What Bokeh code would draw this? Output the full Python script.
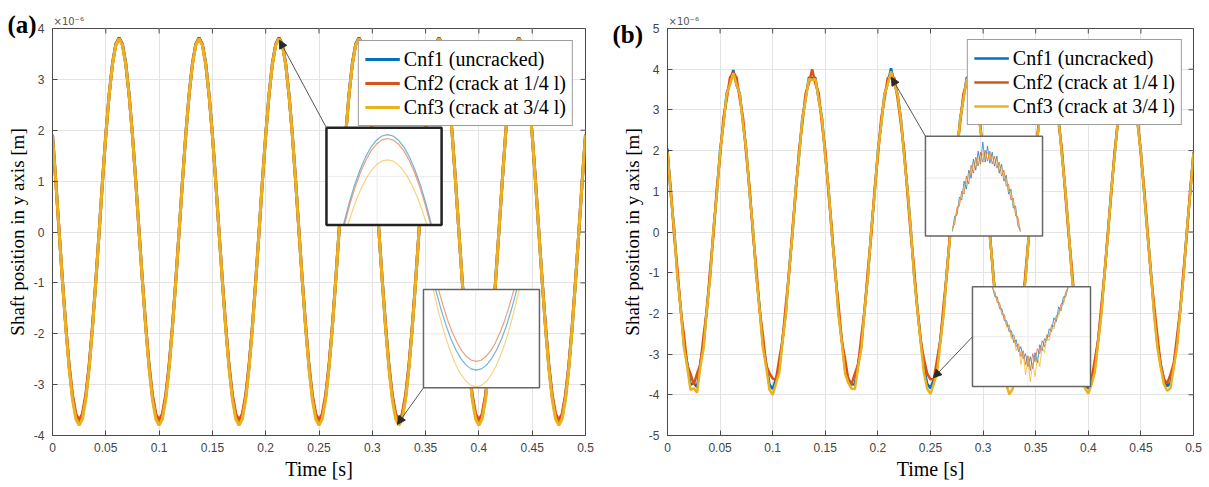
import numpy as np
from bokeh.plotting import figure
from bokeh.layouts import row
from bokeh.models import Range1d, FixedTicker, Arrow, NormalHead, Title
from bokeh.embed import file_html
from bokeh.resources import INLINE

# ---------------- data ----------------
time_s = np.linspace(0.0, 0.5, 161)

x_ticks = [0, 0.05, 0.1, 0.15, 0.2, 0.25, 0.3, 0.35, 0.4, 0.45, 0.5]
x_tick_labels = ["0", "0.05", "0.1", "0.15", "0.2", "0.25", "0.3", "0.35", "0.4", "0.45", "0.5"]
ya_ticks = [-4, -3, -2, -1, 0, 1, 2, 3, 4]
ya_tick_labels = ["-4", "-3", "-2", "-1", "0", "1", "2", "3", "4"]
yb_ticks = [-5, -4, -3, -2, -1, 0, 1, 2, 3, 4, 5]
yb_tick_labels = ["-5", "-4", "-3", "-2", "-1", "0", "1", "2", "3", "4", "5"]

series_names = ["Cnf1 (uncracked)", "Cnf2 (crack at 1/4 l)", "Cnf3 (crack at 3/4 l)"]

# panel (a): shaft position, x1e-6 m
cnf1_a = [
    1.91, 0.99, 0.00, -0.97, -1.87, -2.64, -3.24, -3.61,
    -3.74, -3.61, -3.24, -2.64, -1.87, -0.97, 0.00, 0.99, 1.91, 2.70, 3.31, 3.69, 3.82, 3.69, 3.31, 2.70, 1.91, 0.99, 0.00, -0.97, -1.87, -2.64, -3.24, -3.61,
    -3.74, -3.61, -3.24, -2.64, -1.87, -0.97, 0.00, 0.99, 1.91, 2.70, 3.31, 3.69, 3.82, 3.69, 3.31, 2.70, 1.91, 0.99, 0.00, -0.97, -1.87, -2.64, -3.24, -3.61,
    -3.74, -3.61, -3.24, -2.64, -1.87, -0.97, 0.00, 0.99, 1.91, 2.70, 3.31, 3.69, 3.82, 3.69, 3.31, 2.70, 1.91, 0.99, 0.00, -0.97, -1.87, -2.64, -3.24, -3.61,
    -3.74, -3.61, -3.24, -2.64, -1.87, -0.97, 0.00, 0.99, 1.91, 2.70, 3.31, 3.69, 3.82, 3.69, 3.31, 2.70, 1.91, 0.99, 0.00, -0.97, -1.87, -2.64, -3.24, -3.61,
    -3.74, -3.61, -3.24, -2.64, -1.87, -0.97, 0.00, 0.99, 1.91, 2.70, 3.31, 3.69, 3.82, 3.69, 3.31, 2.70, 1.91, 0.99, 0.00, -0.97, -1.87, -2.64, -3.24, -3.61,
    -3.74, -3.61, -3.24, -2.64, -1.87, -0.97, 0.00, 0.99, 1.91, 2.70, 3.31, 3.69, 3.82, 3.69, 3.31, 2.70, 1.91, 0.99, 0.00, -0.97, -1.87, -2.64, -3.24, -3.61,
    -3.74, -3.61, -3.24, -2.64, -1.87, -0.97, 0.00, 0.99, 1.91,
]
cnf2_a = [
    1.91, 0.99, 0.00, -0.96, -1.85, -2.62, -3.20, -3.57,
    -3.70, -3.57, -3.20, -2.62, -1.85, -0.96, 0.00, 0.99, 1.91, 2.69, 3.30, 3.68, 3.81, 3.68, 3.30, 2.69, 1.91, 0.99, 0.00, -0.96, -1.85, -2.62, -3.20, -3.57,
    -3.70, -3.57, -3.20, -2.62, -1.85, -0.96, 0.00, 0.99, 1.91, 2.69, 3.30, 3.68, 3.81, 3.68, 3.30, 2.69, 1.91, 0.99, 0.00, -0.96, -1.85, -2.62, -3.20, -3.57,
    -3.70, -3.57, -3.20, -2.62, -1.85, -0.96, 0.00, 0.99, 1.91, 2.69, 3.30, 3.68, 3.81, 3.68, 3.30, 2.69, 1.91, 0.99, 0.00, -0.96, -1.85, -2.62, -3.20, -3.57,
    -3.70, -3.57, -3.20, -2.62, -1.85, -0.96, 0.00, 0.99, 1.91, 2.69, 3.30, 3.68, 3.81, 3.68, 3.30, 2.69, 1.91, 0.99, 0.00, -0.96, -1.85, -2.62, -3.20, -3.57,
    -3.70, -3.57, -3.20, -2.62, -1.85, -0.96, 0.00, 0.99, 1.91, 2.69, 3.30, 3.68, 3.81, 3.68, 3.30, 2.69, 1.91, 0.99, 0.00, -0.96, -1.85, -2.62, -3.20, -3.57,
    -3.70, -3.57, -3.20, -2.62, -1.85, -0.96, 0.00, 0.99, 1.91, 2.69, 3.30, 3.68, 3.81, 3.68, 3.30, 2.69, 1.91, 0.99, 0.00, -0.96, -1.85, -2.62, -3.20, -3.57,
    -3.70, -3.57, -3.20, -2.62, -1.85, -0.96, 0.00, 0.99, 1.91,
]
cnf3_a = [
    1.90, 0.98, 0.00, -0.98, -1.90, -2.69, -3.29, -3.67,
    -3.80, -3.67, -3.29, -2.69, -1.90, -0.98, 0.00, 0.98, 1.90, 2.69, 3.29, 3.67, 3.80, 3.67, 3.29, 2.69, 1.90, 0.98, 0.00, -0.98, -1.90, -2.69, -3.29, -3.67,
    -3.80, -3.67, -3.29, -2.69, -1.90, -0.98, 0.00, 0.98, 1.90, 2.69, 3.29, 3.67, 3.80, 3.67, 3.29, 2.69, 1.90, 0.98, 0.00, -0.98, -1.90, -2.69, -3.29, -3.67,
    -3.80, -3.67, -3.29, -2.69, -1.90, -0.98, 0.00, 0.98, 1.90, 2.69, 3.29, 3.67, 3.80, 3.67, 3.29, 2.69, 1.90, 0.98, 0.00, -0.98, -1.90, -2.69, -3.29, -3.67,
    -3.80, -3.67, -3.29, -2.69, -1.90, -0.98, 0.00, 0.98, 1.90, 2.69, 3.29, 3.67, 3.80, 3.67, 3.29, 2.69, 1.90, 0.98, 0.00, -0.98, -1.90, -2.69, -3.29, -3.67,
    -3.80, -3.67, -3.29, -2.69, -1.90, -0.98, 0.00, 0.98, 1.90, 2.69, 3.29, 3.67, 3.80, 3.67, 3.29, 2.69, 1.90, 0.98, 0.00, -0.98, -1.90, -2.69, -3.29, -3.67,
    -3.80, -3.67, -3.29, -2.69, -1.90, -0.98, 0.00, 0.98, 1.90, 2.69, 3.29, 3.67, 3.80, 3.67, 3.29, 2.69, 1.90, 0.98, 0.00, -0.98, -1.90, -2.69, -3.29, -3.67,
    -3.80, -3.67, -3.29, -2.69, -1.90, -0.98, 0.00, 0.98, 1.90,
]

# panel (b): noisy measurement
cnf1_b = [
    2.05, 0.92, 0.10, -1.05, -1.84, -2.78, -3.22, -3.75,
    -3.72, -3.81, -3.20, -2.75, -1.82, -1.06, 0.08, 0.94, 2.01, 2.65, 3.41, 3.64, 3.98, 3.61, 3.40, 2.66, 1.99, 0.93, 0.06, -1.05, -1.83, -2.76, -3.22, -3.74,
    -3.86, -3.60, -3.35, -2.62, -1.97, -0.91, -0.07, 1.08, 1.86, 2.79, 3.26, 3.80, 3.78, 3.79, 3.25, 2.80, 1.87, 1.06, -0.06, -0.90, -1.97, -2.63, -3.36, -3.60,
    -3.75, -3.74, -3.23, -2.77, -1.84, -1.04, 0.06, 0.95, 1.99, 2.66, 3.39, 3.66, 4.02, 3.65, 3.38, 2.78, 1.88, 1.05, 0.07, -1.04, -1.85, -2.62, -3.34, -3.73,
    -3.84, -3.62, -3.33, -2.64, -1.95, -0.93, -0.05, 1.06, 1.88, 2.77, 3.27, 3.79, 3.80, 3.78, 3.28, 2.67, 1.98, 0.95, -0.05, -0.92, -1.96, -2.75, -3.23, -3.61,
    -3.78, -3.72, -3.25, -2.74, -1.86, -1.03, 0.05, 0.96, 1.97, 2.68, 3.37, 3.67, 3.95, 3.66, 3.36, 2.77, 1.90, 1.04, 0.04, -1.03, -1.86, -2.64, -3.33, -3.72,
    -3.85, -3.63, -3.32, -2.65, -1.94, -0.94, -0.04, 1.05, 1.89, 2.76, 3.28, 3.78, 3.82, 3.77, 3.29, 2.68, 1.97, 0.96, -0.04, -0.93, -1.95, -2.74, -3.24, -3.62,
    -3.79, -3.71, -3.26, -2.73, -1.87, -1.02, 0.04, 0.97, 1.96,
]
cnf2_b = [
    1.85, 1.07, -0.08, -0.88, -1.92, -2.52, -3.27, -3.48,
    -3.75, -3.47, -3.26, -2.53, -1.91, -0.88, -0.07, 1.07, 1.85, 2.80, 3.25, 3.80, 3.92, 3.80, 3.26, 2.79, 1.86, 1.08, -0.07, -0.87, -1.92, -2.52, -3.27, -3.47,
    -3.60, -3.63, -3.12, -2.67, -1.77, -1.02, 0.07, 0.93, 2.00, 2.65, 3.40, 3.65, 4.00, 3.64, 3.41, 2.64, 2.01, 0.92, 0.08, -1.03, -1.76, -2.68, -3.11, -3.63,
    -3.74, -3.48, -3.25, -2.54, -1.90, -0.89, -0.06, 1.06, 1.86, 2.79, 3.26, 3.79, 3.78, 3.79, 3.27, 2.65, 2.00, 0.93, -0.06, -0.88, -1.91, -2.67, -3.12, -3.48,
    -3.62, -3.62, -3.13, -2.66, -1.78, -1.01, 0.06, 0.94, 1.99, 2.66, 3.39, 3.66, 3.95, 3.65, 3.40, 2.78, 1.87, 1.07, 0.06, -1.02, -1.77, -2.53, -3.26, -3.62,
    -3.73, -3.49, -3.24, -2.55, -1.89, -0.90, -0.05, 1.05, 1.87, 2.78, 3.27, 3.78, 3.80, 3.78, 3.28, 2.66, 1.99, 0.94, -0.05, -0.89, -1.90, -2.66, -3.13, -3.49,
    -3.63, -3.61, -3.14, -2.65, -1.79, -1.00, 0.05, 0.95, 1.98, 2.67, 3.38, 3.67, 3.90, 3.66, 3.39, 2.77, 1.88, 1.06, 0.05, -1.01, -1.78, -2.54, -3.25, -3.61,
    -3.72, -3.50, -3.23, -2.56, -1.88, -0.91, -0.04, 1.04, 1.88,
]
cnf3_b = [
    1.97, 0.93, 0.07, -1.08, -1.89, -2.84, -3.31, -3.88,
    -3.84, -3.95, -3.30, -2.85, -1.88, -1.09, 0.08, 0.92, 1.98, 2.63, 3.39, 3.62, 3.90, 3.62, 3.38, 2.62, 1.99, 0.92, 0.07, -1.08, -1.89, -2.84, -3.31, -3.87,
    -4.00, -3.72, -3.46, -2.70, -2.03, -0.94, -0.07, 1.06, 1.84, 2.77, 3.24, 3.76, 3.74, 3.76, 3.25, 2.77, 1.84, 1.06, -0.07, -0.94, -2.03, -2.70, -3.47, -3.71,
    -3.85, -3.86, -3.31, -2.84, -1.89, -1.08, 0.07, 0.93, 1.97, 2.63, 3.38, 3.63, 3.95, 3.62, 3.37, 2.76, 1.85, 1.05, 0.06, -1.08, -1.90, -2.70, -3.46, -3.85,
    -3.98, -3.73, -3.45, -2.71, -2.02, -0.95, -0.06, 1.05, 1.85, 2.76, 3.25, 3.75, 3.76, 3.75, 3.26, 2.63, 1.98, 0.93, -0.05, -0.95, -2.02, -2.84, -3.31, -3.73,
    -3.99, -3.85, -3.32, -2.83, -1.90, -1.07, 0.06, 0.94, 1.96, 2.64, 3.37, 3.64, 3.88, 3.63, 3.36, 2.75, 1.86, 1.04, 0.05, -1.07, -1.91, -2.71, -3.45, -3.84,
    -3.97, -3.74, -3.44, -2.72, -2.01, -0.96, -0.05, 1.04, 1.86, 2.75, 3.26, 3.74, 3.78, 3.74, 3.27, 2.64, 1.97, 0.94, -0.04, -0.96, -2.01, -2.83, -3.32, -3.74,
    -3.90, -3.84, -3.33, -2.82, -1.91, -1.06, 0.05, 0.95, 1.95,
]

# zoom insets, read in inset-box fractions (0..1)
ia_top_x1 = [0.147, 0.195, 0.243, 0.291, 0.339, 0.386, 0.434, 0.482, 0.530, 0.578, 0.626, 0.674, 0.722, 0.769, 0.817, 0.865, 0.913]
ia_top_y1 = [0.0, 0.218, 0.407, 0.566, 0.698, 0.799, 0.872, 0.915, 0.930, 0.915, 0.872, 0.799, 0.698, 0.566, 0.407, 0.218, 0.0]
ia_top_x2 = [0.155, 0.202, 0.249, 0.296, 0.343, 0.389, 0.436, 0.483, 0.530, 0.577, 0.624, 0.671, 0.718, 0.764, 0.811, 0.858, 0.905]
ia_top_y2 = [0.0, 0.208, 0.389, 0.542, 0.668, 0.765, 0.834, 0.876, 0.890, 0.876, 0.834, 0.765, 0.668, 0.542, 0.389, 0.208, 0.0]
ia_top_x3 = [0.185, 0.228, 0.271, 0.314, 0.357, 0.400, 0.443, 0.486, 0.529, 0.572, 0.615, 0.658, 0.701, 0.744, 0.787, 0.830, 0.873]
ia_top_y3 = [0.0, 0.157, 0.293, 0.408, 0.503, 0.576, 0.628, 0.660, 0.670, 0.660, 0.628, 0.576, 0.503, 0.408, 0.293, 0.157, 0.0]

ia_bot_x1 = [0.105, 0.149, 0.193, 0.236, 0.280, 0.324, 0.368, 0.411, 0.455, 0.499, 0.543, 0.586, 0.630, 0.674, 0.718, 0.761, 0.805]
ia_bot_y1 = [1.0, 0.808, 0.641, 0.500, 0.385, 0.295, 0.231, 0.193, 0.180, 0.193, 0.231, 0.295, 0.385, 0.500, 0.641, 0.808, 1.0]
ia_bot_x2 = [0.130, 0.171, 0.211, 0.252, 0.293, 0.333, 0.374, 0.414, 0.455, 0.496, 0.536, 0.577, 0.618, 0.658, 0.699, 0.739, 0.780]
ia_bot_y2 = [1.0, 0.829, 0.681, 0.555, 0.453, 0.373, 0.316, 0.281, 0.270, 0.281, 0.316, 0.373, 0.453, 0.555, 0.681, 0.829, 1.0]
ia_bot_x3 = [0.085, 0.131, 0.178, 0.224, 0.270, 0.316, 0.363, 0.409, 0.455, 0.501, 0.548, 0.594, 0.640, 0.686, 0.733, 0.779, 0.825]
ia_bot_y3 = [1.0, 0.768, 0.567, 0.397, 0.258, 0.149, 0.072, 0.025, 0.010, 0.025, 0.072, 0.149, 0.258, 0.397, 0.567, 0.768, 1.0]

ib_top_x = np.linspace(0.23, 0.81, 30)
ib_top_y1 = [0.05, 0.20, 0.21, 0.39, 0.36, 0.55, 0.47, 0.66, 0.58, 0.77, 0.66, 0.85, 0.72, 0.94, 0.74, 0.90, 0.73, 0.84, 0.70, 0.80, 0.63, 0.72, 0.55, 0.61, 0.42, 0.47, 0.28, 0.30, 0.10, 0.06]
ib_top_y2 = [0.08, 0.12, 0.29, 0.30, 0.45, 0.42, 0.60, 0.52, 0.71, 0.63, 0.79, 0.70, 0.84, 0.74, 0.86, 0.75, 0.85, 0.72, 0.80, 0.68, 0.74, 0.60, 0.66, 0.50, 0.52, 0.36, 0.38, 0.20, 0.19, 0.04]
ib_top_y3 = [0.04, 0.17, 0.25, 0.35, 0.40, 0.50, 0.53, 0.63, 0.62, 0.73, 0.69, 0.79, 0.73, 0.83, 0.77, 0.84, 0.76, 0.80, 0.72, 0.76, 0.66, 0.69, 0.57, 0.58, 0.45, 0.44, 0.31, 0.27, 0.13, 0.07]

ib_bot_x = np.linspace(0.17, 0.81, 33)
ib_bot_y1 = [1.0, 0.90, 0.90, 0.78, 0.78, 0.66, 0.66, 0.55, 0.56, 0.44, 0.47, 0.35, 0.40, 0.28, 0.33, 0.20, 0.30, 0.18, 0.34, 0.24, 0.42, 0.36, 0.48, 0.46, 0.58, 0.55, 0.69, 0.65, 0.80, 0.76, 0.90, 0.90, 1.0]
ib_bot_y2 = [0.98, 0.95, 0.84, 0.84, 0.72, 0.72, 0.60, 0.62, 0.50, 0.52, 0.40, 0.43, 0.30, 0.36, 0.22, 0.31, 0.16, 0.33, 0.25, 0.38, 0.33, 0.46, 0.40, 0.52, 0.50, 0.62, 0.60, 0.71, 0.73, 0.83, 0.84, 0.95, 0.99]
ib_bot_y3 = [1.0, 0.92, 0.88, 0.80, 0.74, 0.70, 0.60, 0.60, 0.48, 0.50, 0.36, 0.42, 0.22, 0.34, 0.12, 0.28, 0.05, 0.24, 0.10, 0.30, 0.20, 0.40, 0.34, 0.49, 0.46, 0.59, 0.58, 0.69, 0.70, 0.80, 0.82, 0.92, 1.0]

# ---------------- styling ----------------
COLORS = ["#0072BD", "#D95319", "#EDB120"]
AX_COLOR = "#4a4a4a"
GRID_COLOR = "#e4e4e4"
FIG_H = 487


def make_panel(width, borders, y_lo, y_hi, y_ticks, y_tick_labels):
    left, right, top, bottom = borders
    p = figure(width=width, height=FIG_H, x_range=Range1d(0, 0.5), y_range=Range1d(y_lo, y_hi),
               output_backend="svg", toolbar_location=None,
               min_border_left=left, min_border_right=right,
               min_border_top=top, min_border_bottom=bottom)
    p.background_fill_color = "white"
    p.border_fill_color = "white"
    p.outline_line_color = AX_COLOR
    p.outline_line_width = 1
    p.xaxis.ticker = FixedTicker(ticks=x_ticks)
    p.xaxis.major_label_overrides = dict(zip(x_ticks, x_tick_labels))
    p.yaxis.ticker = FixedTicker(ticks=y_ticks)
    p.yaxis.major_label_overrides = dict(zip(y_ticks, y_tick_labels))
    for ax in p.xaxis + p.yaxis:
        ax.major_tick_in = 5
        ax.major_tick_out = 0
        ax.minor_tick_line_color = None
        ax.axis_line_color = AX_COLOR
        ax.major_tick_line_color = AX_COLOR
        ax.major_label_text_font = "Liberation Sans"
        ax.major_label_text_font_size = "12px"
        ax.major_label_text_color = "#444444"
        ax.axis_label_text_font = "Liberation Serif"
        ax.axis_label_text_font_style = "normal"
        ax.axis_label_text_color = "black"
        ax.axis_label_standoff = 3
    p.xaxis.major_label_standoff = 7
    p.yaxis.major_label_standoff = 8
    p.xaxis.axis_label = "Time [s]"
    p.xaxis.axis_label_text_font_size = "20px"
    p.yaxis.axis_label = "Shaft position in y axis [m]"
    p.yaxis.axis_label_text_font_size = "19px"
    p.xgrid.grid_line_color = GRID_COLOR
    p.ygrid.grid_line_color = GRID_COLOR
    # inward tick marks on the top and right edges of the box
    frame_w = width - left - right
    frame_h = FIG_H - top - bottom
    dy = 5 * (y_hi - y_lo) / frame_h
    dx = 5 * 0.5 / frame_w
    p.segment(x0=x_ticks, y0=[y_hi] * len(x_ticks), x1=x_ticks, y1=[y_hi - dy] * len(x_ticks),
              line_color=AX_COLOR, line_width=1)
    p.segment(x0=[0.5] * len(y_ticks), y0=y_ticks, x1=[0.5 - dx] * len(y_ticks), y1=y_ticks,
              line_color=AX_COLOR, line_width=1)
    return p


def add_series(p, ys_list, lw):
    for ys, c, name in zip(ys_list, COLORS, series_names):
        p.line(time_s, ys, line_color=c, line_width=lw, legend_label=name)


def style_legend(p, margin):
    leg = p.legend[0]
    leg.location = "top_right"
    leg.margin = margin
    leg.label_text_font = "Liberation Serif"
    leg.label_text_font_size = "20px"
    leg.label_text_color = "black"
    leg.glyph_width = 35
    leg.glyph_height = 24
    leg.label_height = 24
    leg.spacing = 0
    leg.padding = 6
    leg.label_standoff = 4
    leg.border_line_color = "#3a3a3a"
    leg.border_line_width = 1
    leg.background_fill_alpha = 1.0


def add_inset(p, name, box, series, border_color, border_width, gx, gy, lw, alpha):
    bx0, bx1, by0, by1 = box
    X0, X1 = p.x_range.start, p.x_range.end
    Y0, Y1 = p.y_range.start, p.y_range.end
    xr = Range1d((X0 - bx0) / (bx1 - bx0), (X1 - bx0) / (bx1 - bx0))
    yr = Range1d((Y0 - by0) / (by1 - by0), (Y1 - by0) / (by1 - by0))
    p.extra_x_ranges = {**p.extra_x_ranges, name + "_x": xr}
    p.extra_y_ranges = {**p.extra_y_ranges, name + "_y": yr}
    kw = dict(x_range_name=name + "_x", y_range_name=name + "_y")
    p.quad(left=[0], right=[1], bottom=[0], top=[1], fill_color="white", line_color=None, **kw)
    for g in gx:
        p.segment(x0=[g], y0=[0], x1=[g], y1=[1], line_color="#ebebeb", line_width=1, **kw)
    for g in gy:
        p.segment(x0=[0], y0=[g], x1=[1], y1=[g], line_color="#ebebeb", line_width=1, **kw)
    for (xs, ys), c in zip(series, COLORS):
        p.line(xs, ys, line_color=c, line_width=lw, line_alpha=alpha, **kw)
    p.quad(left=[0], right=[1], bottom=[0], top=[1], fill_color=None,
           line_color=border_color, line_width=border_width, **kw)


def add_arrow(p, xs, ys, xe, ye):
    p.add_layout(Arrow(end=NormalHead(size=8, fill_color="#2a2a2a", line_color="#2a2a2a"),
                       x_start=xs, y_start=ys, x_end=xe, y_end=ye,
                       line_color="#555555", line_width=1))


def add_corner_texts(p, tag, tag_offset, tag_standoff):
    # exponent marker sits just above the top-left corner of the box
    p.add_layout(Title(text="×10⁻⁶", align="left", offset=1, standoff=4, vertical_align="bottom",
                       text_font="DejaVu Sans", text_font_size="10px", text_font_style="normal",
                       text_color="#555555"), "above")
    # panel tag to the left of the box
    p.add_layout(Title(text=tag, align="left", offset=tag_offset, standoff=tag_standoff,
                       vertical_align="bottom", text_font="Liberation Serif",
                       text_font_size="25px", text_font_style="bold", text_color="black"), "above")


# ---------------- panel (a) ----------------
pa = make_panel(600, (52, 15, 25, 52), -4, 4, ya_ticks, ya_tick_labels)
add_series(pa, [cnf1_a, cnf2_a, cnf3_a], 3)
add_inset(pa, "ia_top", (0.2570, 0.3650, 0.137, 2.049),
          [(ia_top_x1, ia_top_y1), (ia_top_x2, ia_top_y2), (ia_top_x3, ia_top_y3)],
          "#222222", 2.5, [0.44], [0.5], 1.2, 0.55)
add_inset(pa, "ia_bot", (0.3480, 0.4568, -3.063, -1.132),
          [(ia_bot_x1, ia_bot_y1), (ia_bot_x2, ia_bot_y2), (ia_bot_x3, ia_bot_y3)],
          "#666666", 1.5, [0.45], [0.55], 1.2, 0.55)
add_arrow(pa, 0.2570, 2.049, 0.2129, 3.77)
add_arrow(pa, 0.3480, -3.063, 0.3236, -3.78)
style_legend(pa, 12)
add_corner_texts(pa, "(a)", -45, -52)

# ---------------- panel (b) ----------------
pb = make_panel(609, (67, 16, 28, 51), -5, 5, yb_ticks, yb_tick_labels)
add_series(pb, [cnf1_b, cnf2_b, cnf3_b], 2.5)
add_inset(pb, "ib_top", (0.2452, 0.3565, -0.098, 2.353),
          [(ib_top_x, ib_top_y1), (ib_top_x, ib_top_y2), (ib_top_x, ib_top_y3)],
          "#666666", 1.5, [0.47], [0.58], 1, 0.7)
add_inset(pb, "ib_bot", (0.2899, 0.4021, -3.799, -1.348),
          [(ib_bot_x, ib_bot_y1), (ib_bot_x, ib_bot_y2), (ib_bot_x, ib_bot_y3)],
          "#666666", 1.5, [0.47], [0.5], 1, 0.7)
add_arrow(pb, 0.2452, 2.353, 0.2129, 3.80)
add_arrow(pb, 0.2899, -2.574, 0.2529, -3.58)
style_legend(pb, 11)
add_corner_texts(pb, "(b)", -55, -72)

layout = row(pa, pb)
open("out.html", "w").write(file_html(layout, INLINE))
